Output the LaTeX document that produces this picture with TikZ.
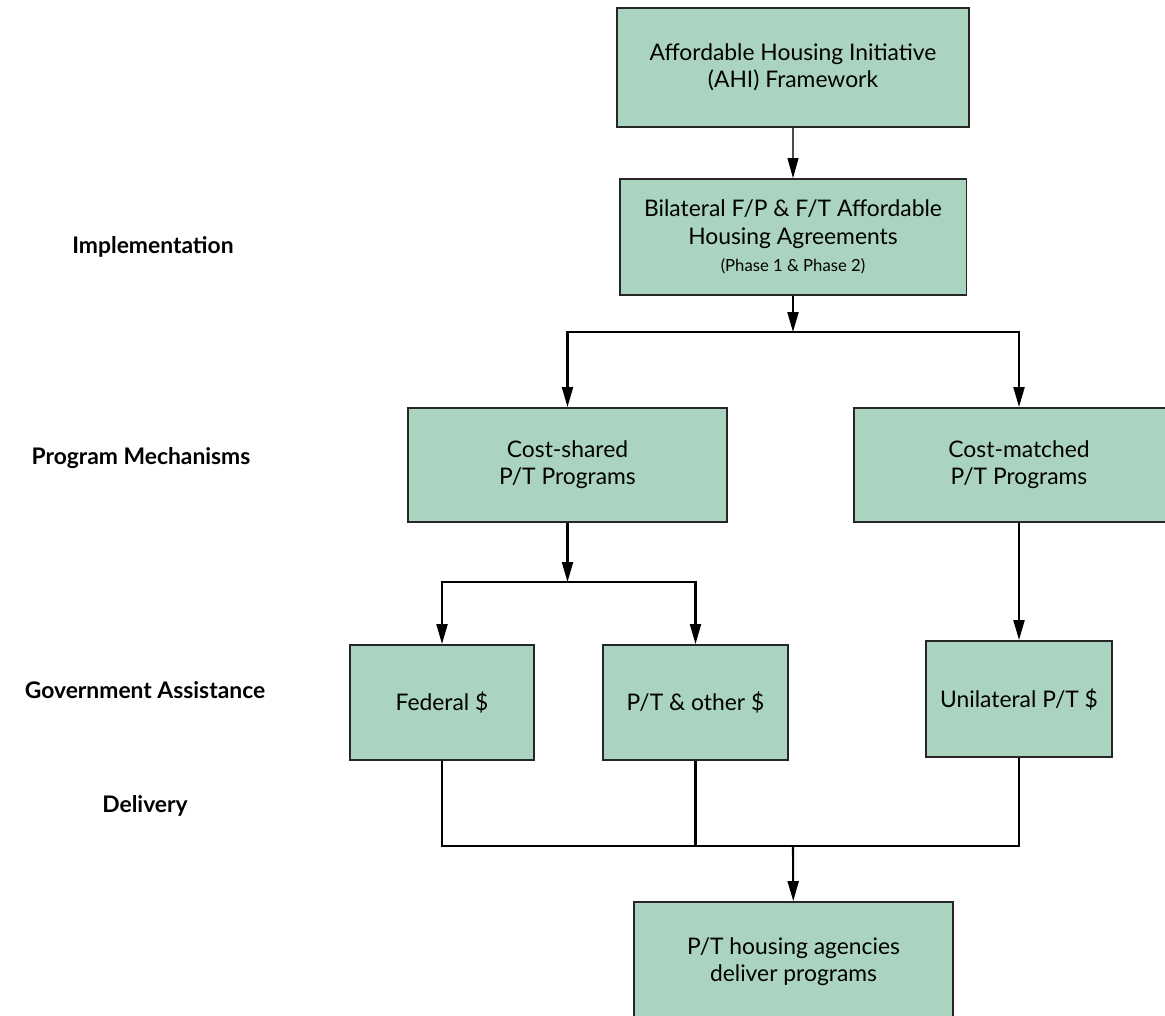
\documentclass[tikz,border=0pt]{standalone}
\usepackage{fontspec}
\setmainfont{Lato}
\usetikzlibrary{arrows.meta}
\definecolor{boxgreen}{RGB}{170,212,192}

\begin{document}
\begin{tikzpicture}[x=0.02cm,y=-0.02cm,>={Triangle[length=0.4cm,width=0.22cm]},
    box node/.style={draw=black!85,fill=boxgreen,line width=1.1pt,align=center,inner sep=0pt,font=\fontsize{13}{15.5}\selectfont},
    level node/.style={font=\fontsize{13}{15.5}\selectfont\bfseries},
    link/.style={line width=1.2pt}]
    \clip (0,0) rectangle (1165,1016);

    \node[box node,minimum width=7.04cm,minimum height=2.38cm] (ahi) at (793,67.5) {Affordable Housing Initiative\\(AHI) Framework};
    \node[box node,minimum width=6.94cm,minimum height=2.32cm] (bil) at (793,237) {Bilateral F/P \& F/T Affordable\\Housing Agreements\\{\fontsize{9.5}{12}\selectfont (Phase 1 \& Phase 2)}};
    \node[box node,minimum width=6.38cm,minimum height=2.28cm] (cs) at (567.5,465) {Cost-shared\\P/T Programs};
    \node[box node,minimum width=6.6cm,minimum height=2.28cm] (cm) at (1019,465) {Cost-matched\\P/T Programs};
    \node[box node,minimum width=3.68cm,minimum height=2.3cm] (fed) at (442,702.5) {Federal \$};
    \node[box node,minimum width=3.7cm,minimum height=2.3cm] (pto) at (695.5,702.5) {P/T \& other \$};
    \node[box node,minimum width=3.72cm,minimum height=2.32cm] (uni) at (1019,699) {Unilateral P/T \$};
    \node[box node,minimum width=6.38cm,minimum height=2.4cm] (dlv) at (793.5,962) {P/T housing agencies\\deliver programs};

    \node[level node] (impl) at (153,247) {Implementation};
    \node[level node] (prog) at (141,458) {Program Mechanisms};
    \node[level node] (gov) at (145,690) {Government Assistance};
    \node[level node] (deliv) at (145,806) {Delivery};

    \coordinate (split1) at (793,332);
    \coordinate (split2) at (567.5,582);
    \coordinate (merge) at (793,846);

    \draw[-{Triangle[length=0.4cm,width=0.22cm,color=black]},line width=0.6pt,draw=black!70] (ahi) -- (bil);
    \draw[->,link] (bil) -- (split1);
    \draw[->,link] (split1) -| (cs);
    \draw[->,link] (split1) -| (cm);
    \draw[->,link] (cs) -- (split2);
    \draw[->,link] (split2) -| (fed);
    \draw[->,link] (split2) -| (pto);
    \draw[->,link] (cm) -- (uni);
    \draw[link] (fed) |- (merge);
    \draw[link] (pto) |- (merge);
    \draw[link] (uni) |- (merge);
    \draw[->,link] (merge) -- (dlv);
\end{tikzpicture}
\end{document}
